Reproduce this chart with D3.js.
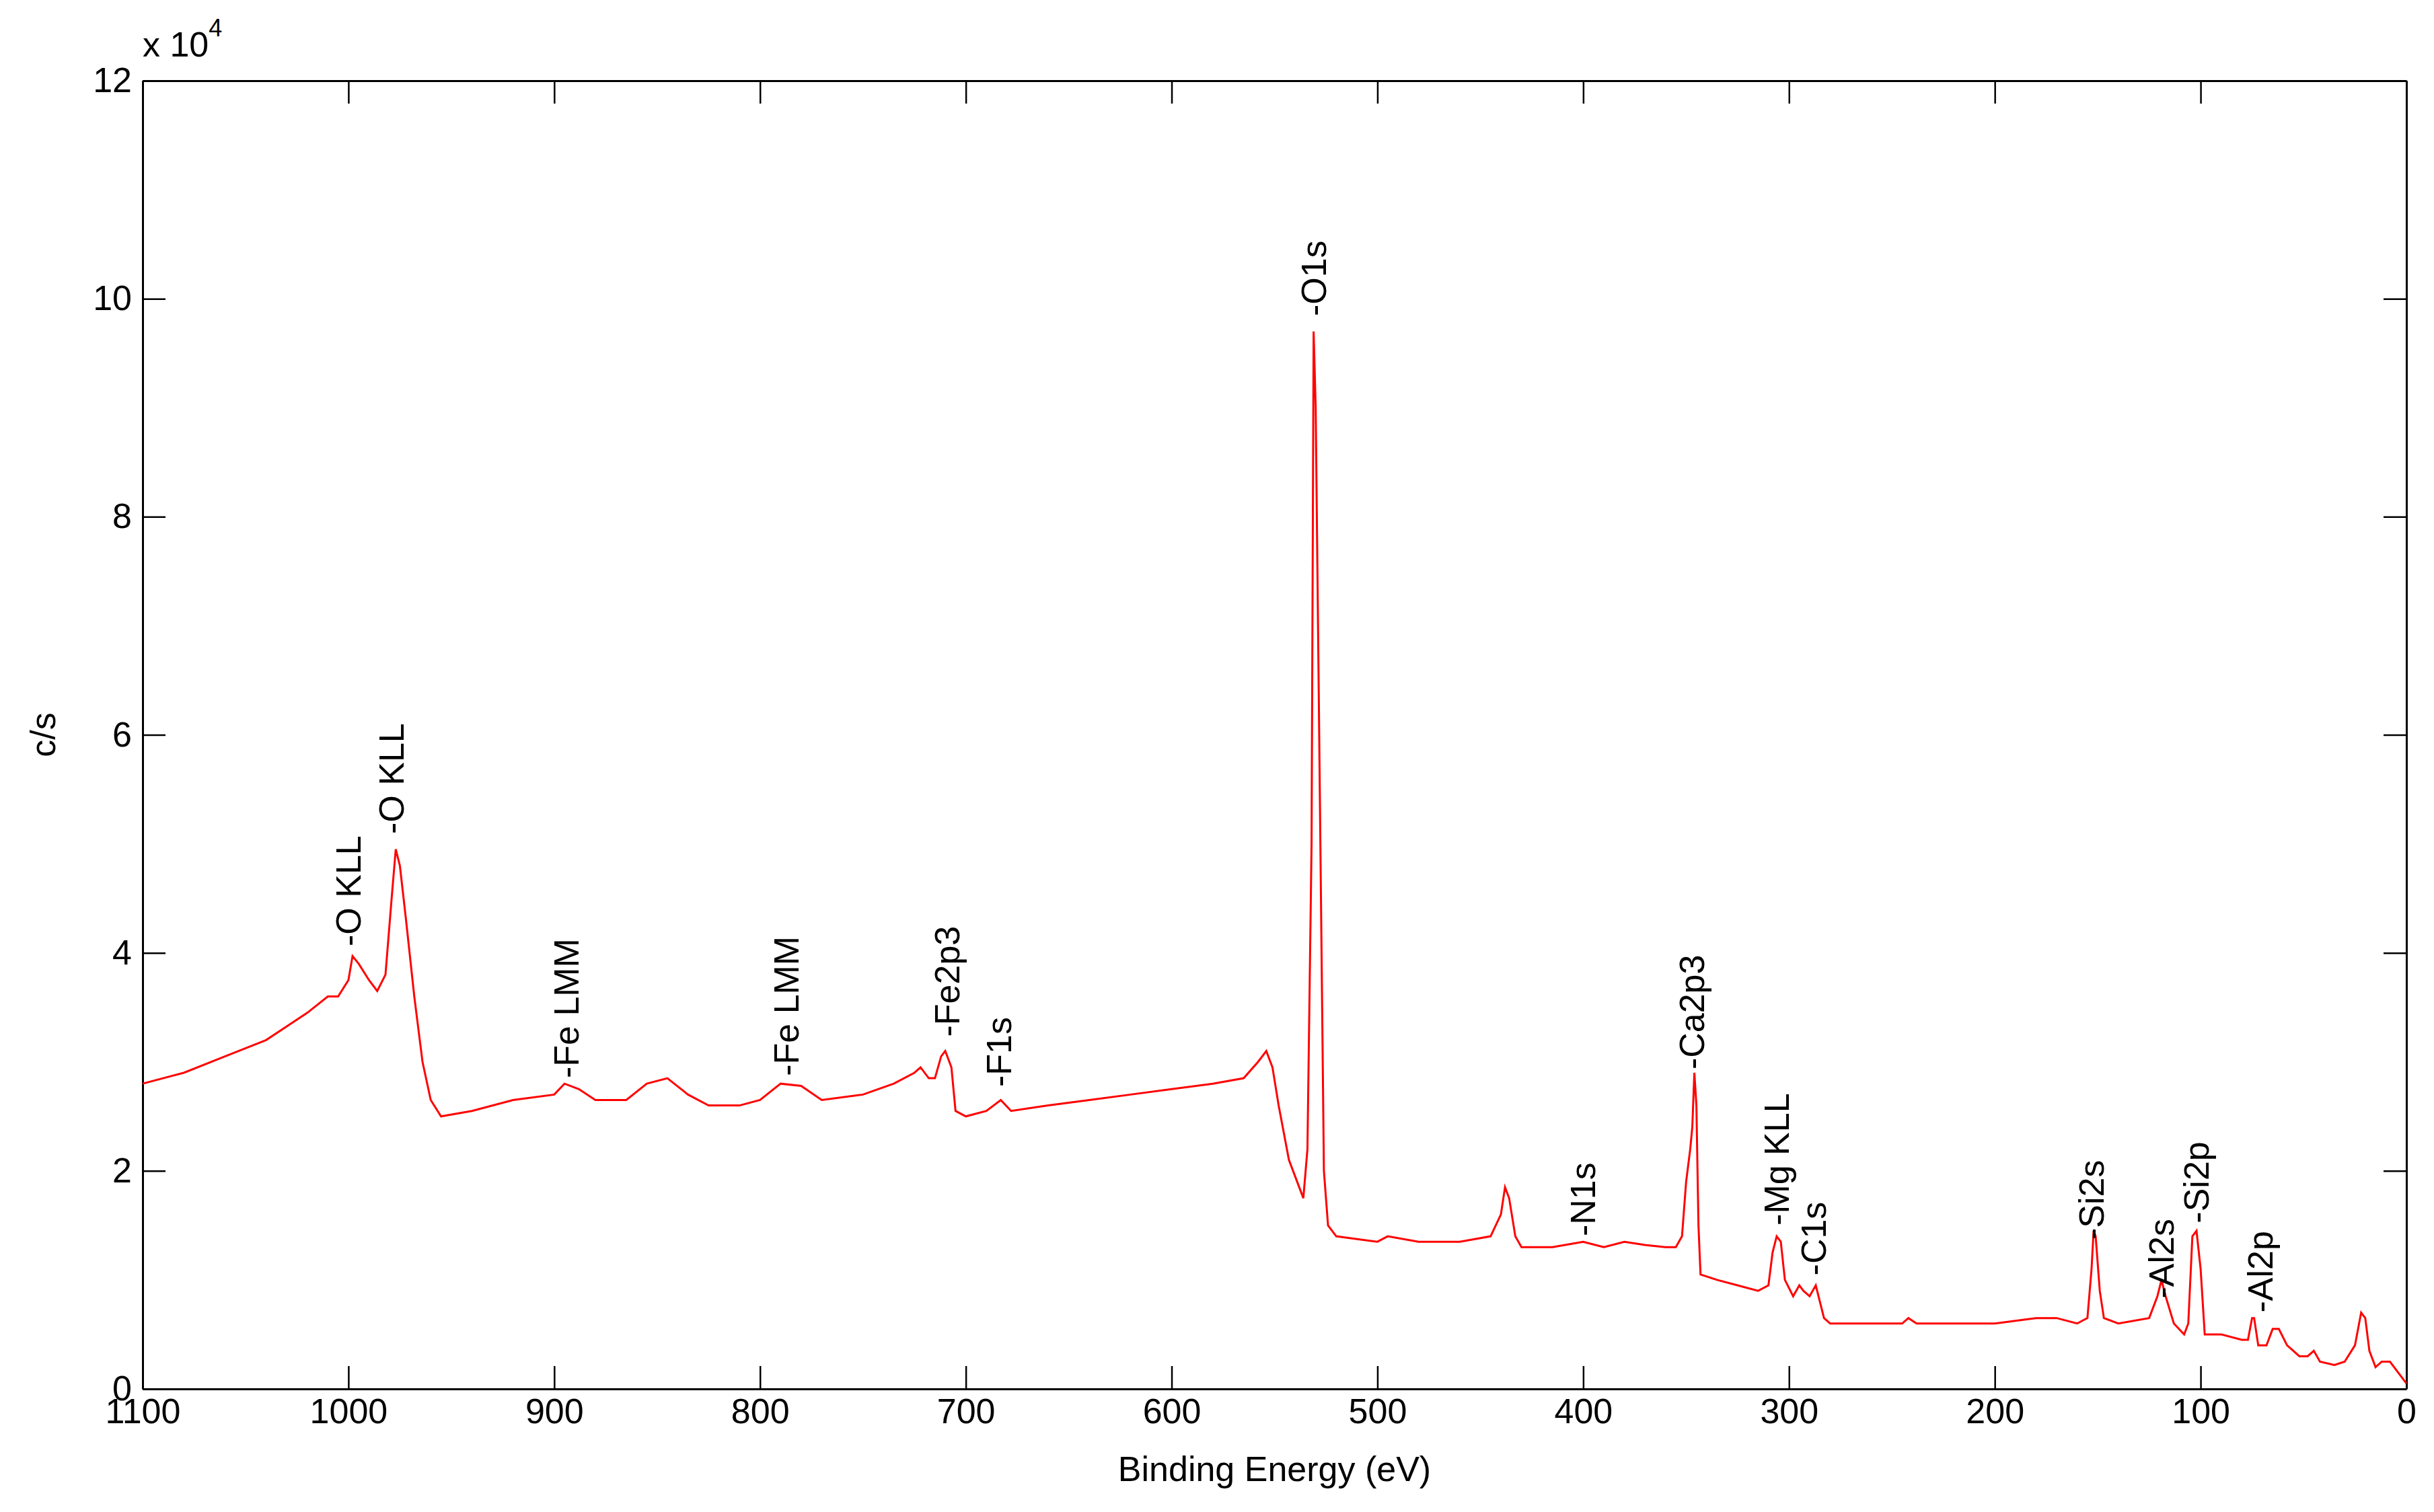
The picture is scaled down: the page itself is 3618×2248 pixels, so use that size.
<!DOCTYPE html>
<html>
<head>
<meta charset="utf-8">
<script src="https://cdn.jsdelivr.net/npm/d3@7"></script>
<style>
body { margin: 0; background: white; }
text { font-family: "Liberation Sans", Arial, sans-serif; }
</style>
</head>
<body>
<div id="chart"></div>
<script>
let W = 3618, H = 2248
let margin = { left: 212, right: 41, top: 120, bottom: 183 }

// spectrum: binding energy (eV), counts (x 10^4 c/s)
let energy = [1100, 1080, 1060, 1040, 1020, 1010, 1005, 1000, 998, 995, 990, 986, 982, 979, 977, 975, 972, 968, 964, 960,
    955, 940, 920, 900, 895, 888, 880, 865, 855, 845, 835, 825, 810, 800, 790, 780, 770, 750, 735, 725,
    722, 718, 715, 712, 710, 707, 705, 700, 690, 683, 678, 660, 640, 620, 600, 580, 565, 558, 554, 551,
    548, 543, 538, 536, 534, 532, 531, 530, 528, 526, 524, 520, 500, 495, 480, 460, 445, 440, 438, 436,
    433, 430, 415, 400, 390, 380, 370, 360, 355, 352, 350, 348, 347, 346, 345, 344, 343, 335, 325, 315,
    310, 308, 306, 304, 302, 298, 295, 293, 290, 287, 285, 283, 280, 260, 245, 242, 238, 220, 200, 180,
    170, 160, 155, 153, 152, 151, 149, 147, 140, 125, 121, 119, 117, 113, 108, 106, 104, 102, 100, 98,
    90, 80, 77, 75, 74, 72, 68, 65, 62, 58, 52, 48, 45, 42, 35, 30, 25, 22, 20, 18, 15, 12, 8, 0]
let counts = [2.8, 2.9, 3.05, 3.2, 3.45, 3.6, 3.6, 3.75, 3.97, 3.9, 3.75, 3.65, 3.8, 4.5, 4.95, 4.8, 4.3, 3.6, 3.0, 2.65,
    2.5, 2.55, 2.65, 2.7, 2.8, 2.75, 2.65, 2.65, 2.8, 2.85, 2.7, 2.6, 2.6, 2.65, 2.8, 2.78, 2.65, 2.7, 2.8, 2.9,
    2.95, 2.85, 2.85, 3.05, 3.1, 2.95, 2.55, 2.5, 2.55, 2.65, 2.55, 2.6, 2.65, 2.7, 2.75, 2.8, 2.85, 3.0, 3.1, 2.95,
    2.6, 2.1, 1.85, 1.75, 2.2, 5, 9.7, 9.0, 5.5, 2, 1.5, 1.4, 1.35, 1.4, 1.35, 1.35, 1.4, 1.6, 1.85, 1.75,
    1.4, 1.3, 1.3, 1.35, 1.3, 1.35, 1.32, 1.3, 1.3, 1.4, 1.9, 2.2, 2.4, 2.9, 2.6, 1.5, 1.05, 1.0, 0.95, 0.9,
    0.95, 1.25, 1.4, 1.35, 1.0, 0.85, 0.95, 0.9, 0.85, 0.95, 0.8, 0.65, 0.6, 0.6, 0.6, 0.65, 0.6, 0.6, 0.6, 0.65,
    0.65, 0.6, 0.65, 1.1, 1.45, 1.4, 0.9, 0.65, 0.6, 0.65, 0.85, 1.0, 0.85, 0.6, 0.5, 0.6, 1.4, 1.45, 1.1, 0.5,
    0.5, 0.45, 0.45, 0.65, 0.65, 0.4, 0.4, 0.55, 0.55, 0.4, 0.3, 0.3, 0.35, 0.25, 0.22, 0.25, 0.4, 0.7, 0.65, 0.35, 0.2, 0.25, 0.25, 0.05]

// peak labels
let peakNames = ["O KLL", "O KLL", "Fe LMM", "Fe LMM", "Fe2p3", "F1s", "O1s", "N1s", "Ca2p3", "Mg KLL", "C1s", "Si2s", "Al2s", "Si2p", "Al2p"]
let peakEnergy = [1000, 979, 894, 787, 709, 684, 531, 400, 347, 306, 288, 153, 119, 102, 71]
let peakCounts = [4.06, 5.09, 2.85, 2.87, 3.23, 2.77, 9.84, 1.4, 2.93, 1.5, 1.04, 1.37, 0.83, 1.52, 0.7]

let xTicks = d3.range(0, 1101, 100)
let yTicks = d3.range(0, 13, 2)

let svg = d3.select("#chart").append("svg").attr("width", W).attr("height", H)
let pw = W - margin.left - margin.right, ph = H - margin.top - margin.bottom
let g = svg.append("g").attr("transform", `translate(${margin.left},${margin.top})`)

let x = d3.scaleLinear().domain([1100, 0]).range([0, pw])
let y = d3.scaleLinear().domain([0, 12]).range([ph, 0])

let fs = 52
let tl = 34

// axes, MATLAB style ticks inside on all four sides
g.append("g").attr("transform", `translate(0,${ph})`)
    .call(d3.axisBottom(x).tickValues(xTicks).tickSizeInner(-tl).tickSizeOuter(0).tickPadding(14).tickFormat(d3.format("d")))
g.append("g")
    .call(d3.axisTop(x).tickValues(xTicks).tickSizeInner(-tl).tickSizeOuter(0).tickFormat(""))
g.append("g")
    .call(d3.axisLeft(y).tickValues(yTicks).tickSizeInner(-tl).tickSizeOuter(0).tickPadding(16).tickFormat(d3.format("d")))
g.append("g").attr("transform", `translate(${pw},0)`)
    .call(d3.axisRight(y).tickValues(yTicks).tickSizeInner(-tl).tickSizeOuter(0).tickFormat(""))
g.selectAll(".domain").attr("stroke", "#000").attr("stroke-width", 3)
g.selectAll(".tick line").attr("stroke", "#000").attr("stroke-width", 2.5)
g.selectAll(".tick text").attr("font-size", fs).attr("fill", "#000")
    .style("font-family", "'Liberation Sans', Arial, sans-serif")

// spectrum
let pts = energy.map((e, i) => [e, counts[i]])
g.append("path").datum(pts)
    .attr("fill", "none").attr("stroke", "#ff0000").attr("stroke-width", 3)
    .attr("d", d3.line().x(d => x(d[0])).y(d => y(d[1])))

// peak labels
g.selectAll(".peak").data(peakNames).join("text").attr("class", "peak")
    .attr("transform", (d, i) => `translate(${x(peakEnergy[i])},${y(peakCounts[i])}) rotate(-90)`)
    .attr("dominant-baseline", "central")
    .attr("font-size", fs)
    .text(d => "-" + d)

// axis titles
svg.append("text").attr("x", margin.left + pw / 2).attr("y", 2202)
    .attr("text-anchor", "middle").attr("font-size", fs).text("Binding Energy (eV)")
svg.append("text").attr("transform", `translate(82,${margin.top + ph / 2}) rotate(-90)`)
    .attr("text-anchor", "middle").attr("font-size", fs).text("c/s")
let mult = svg.append("text").attr("x", margin.left).attr("y", 84).attr("font-size", fs)
mult.append("tspan").text("x 10")
mult.append("tspan").attr("dy", -30).attr("font-size", 36).text("4")
</script>
</body>
</html>
